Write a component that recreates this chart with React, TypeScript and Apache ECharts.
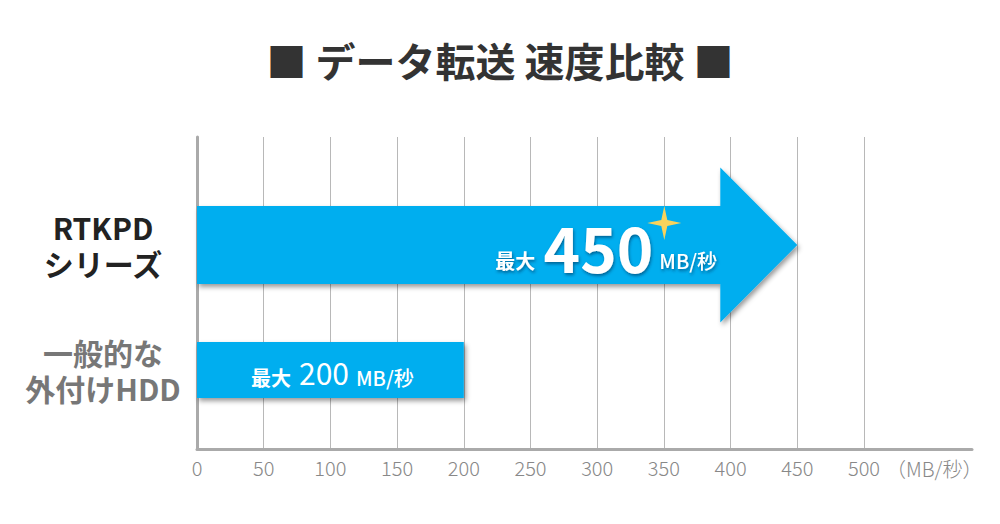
import React, { useEffect, useRef } from "react";
import * as echarts from "echarts";

const titleText = "■ データ転送 速度比較 ■";
const categories = ["RTKPD\nシリーズ", "一般的な\n外付けHDD"];
const speeds = [450, 200];
const labelPrefix = "最大";
const unitText = "MB/秒";
const axisUnit = "（MB/秒）";
const tickMin = 0;
const tickMax = 500;
const tickStep = 50;

const FONT = "'Noto Sans CJK JP', 'Noto Sans', sans-serif";
const BLUE = "#00AEEF";

export default function App() {
  const ref = useRef<HTMLDivElement>(null);
  useEffect(() => {
    if (!ref.current) return;
    const chart = echarts.init(ref.current, undefined, { renderer: "svg" });
    const textShadow = {
      textShadowColor: "rgba(0,40,80,0.55)",
      textShadowBlur: 3,
      textShadowOffsetX: 1,
      textShadowOffsetY: 2,
    };
    const renderItem = (params: any, api: any) => {
      const v = api.value(0);
      const c = api.value(1);
      const p0 = api.coord([0, c]);
      const p1 = api.coord([v, c]);
      const x0 = p0[0];
      const x1 = p1[0];
      const cy = p0[1];
      const shadow = {
        shadowColor: "rgba(0,0,0,0.4)",
        shadowBlur: 5,
        shadowOffsetX: 2,
        shadowOffsetY: 3,
      };
      if (params.dataIndex === 0) {
        const bh = 78 / 2;
        const hh = 155 / 2;
        const hl = 77;
        const pts = [
          [x0, cy - bh],
          [x1 - hl, cy - bh],
          [x1 - hl, cy - hh],
          [x1, cy],
          [x1 - hl, cy + hh],
          [x1 - hl, cy + bh],
          [x0, cy + bh],
        ];
        const sx = x1 - 133;
        const sy = cy - 22;
        const R = 17;
        const r = 3;
        const star = [
          [sx, sy - R],
          [sx + r, sy - r],
          [sx + R, sy],
          [sx + r, sy + r],
          [sx, sy + R],
          [sx - r, sy + r],
          [sx - R, sy],
          [sx - r, sy - r],
        ];
        return {
          type: "group",
          children: [
            { type: "polygon", shape: { points: pts }, style: { fill: BLUE, ...shadow } },
            {
              type: "text",
              style: {
                x: x1 - 144,
                y: cy + 1,
                text: String(v),
                fontSize: 62,
                fontWeight: "bold",
                fontFamily: FONT,
                fill: "#fff",
                align: "right",
                verticalAlign: "middle",
                ...textShadow,
              },
            },
            {
              type: "text",
              style: {
                x: x1 - 262,
                y: cy + 15,
                text: labelPrefix,
                fontSize: 20,
                fontWeight: "bold",
                fontFamily: FONT,
                fill: "#fff",
                align: "right",
                verticalAlign: "middle",
                ...textShadow,
              },
            },
            {
              type: "text",
              style: {
                x: x1 - 138,
                y: cy + 15,
                text: unitText,
                fontSize: 20,
                fontWeight: 500,
                fontFamily: FONT,
                fill: "#fff",
                align: "left",
                verticalAlign: "middle",
                ...textShadow,
              },
            },
            { type: "polygon", shape: { points: star }, style: { fill: "#F7D35C" } },
          ],
        };
      }
      const h = 56 / 2;
      return {
        type: "group",
        children: [
          {
            type: "rect",
            shape: { x: x0, y: cy - h, width: x1 - x0, height: 2 * h },
            style: { fill: BLUE, ...shadow },
          },
          {
            type: "text",
            style: {
              x: (x0 + x1) / 2 + 2,
              y: cy + 2,
              text: `{a|${labelPrefix}}{b|${v}}{c|${unitText}}`,
              align: "center",
              verticalAlign: "middle",
              fill: "#fff",
              fontFamily: FONT,
              rich: {
                a: { fontSize: 20, fontWeight: "bold", fill: "#fff", fontFamily: FONT, verticalAlign: "bottom", padding: [0, 8, 0, 0] },
                b: { fontSize: 30, fontWeight: "normal", fill: "#fff", fontFamily: FONT, verticalAlign: "bottom", padding: [0, 7, 0, 0] },
                c: { fontSize: 20, fontWeight: 500, fill: "#fff", fontFamily: FONT, verticalAlign: "bottom" },
              },
            },
          },
        ],
      };
    };

    chart.setOption({
      animation: false,
      backgroundColor: "#fff",
      title: {
        text: titleText,
        left: "center",
        top: 40,
        padding: 0,
        textStyle: { fontSize: 40, fontWeight: "bold", color: "#333", fontFamily: FONT },
      },
      grid: [
        { left: 197, right: 28, top: 137, bottom: 75 },
        { left: 197, right: 136, top: 137, bottom: 75 },
        { left: 197, right: 136, top: 182.5, bottom: 91.5 },
      ],
      xAxis: [
        {
          gridIndex: 0,
          type: "value",
          min: 0,
          max: 1,
          axisLine: { show: true, lineStyle: { color: "#aaaaaa", width: 3 } },
          axisTick: { show: false },
          axisLabel: { show: false },
          splitLine: { show: false },
        },
        {
          gridIndex: 1,
          type: "value",
          min: tickMin,
          max: tickMax,
          interval: tickStep,
          axisLine: { show: false },
          axisTick: { show: false },
          axisLabel: { fontSize: 20, color: "#888", margin: 8, fontFamily: FONT, fontWeight: 300 },
          splitLine: { show: true, lineStyle: { color: "#b8b8b8", width: 1 } },
          name: axisUnit,
          nameLocation: "end",
          nameGap: 18,
          nameTextStyle: {
            fontSize: 20,
            color: "#888",
            fontFamily: FONT,
            fontWeight: 300,
            verticalAlign: "top",
            padding: [10, 0, 0, 0],
          },
        },
        {
          gridIndex: 2,
          type: "value",
          min: tickMin,
          max: tickMax,
          show: false,
        },
      ],
      yAxis: [
        {
          gridIndex: 0,
          type: "value",
          min: 0,
          max: 1,
          axisLine: { show: true, lineStyle: { color: "#aaaaaa", width: 3 } },
          axisTick: { show: false },
          axisLabel: { show: false },
          splitLine: { show: false },
        },
        {
          gridIndex: 1,
          type: "value",
          min: 0,
          max: 1,
          show: false,
        },
        {
          gridIndex: 2,
          type: "category",
          inverse: true,
          data: categories,
          axisLine: { show: false },
          axisTick: { show: false },
          splitLine: { show: false },
          axisLabel: {
            fontSize: 30,
            fontWeight: "bold",
            lineHeight: 36,
            fontFamily: FONT,
            align: "center",
            margin: 94,
            color: (_v: any, i: number) => (i === 0 ? "#222" : "#777"),
          },
        },
      ],
      series: [
        {
          type: "custom",
          xAxisIndex: 2,
          yAxisIndex: 2,
          renderItem,
          encode: { x: 0, y: 1 },
          data: speeds.map((v, i) => [v, i]),
          z: 5,
        },
      ],
    });
    return () => chart.dispose();
  }, []);
  return (
    <div
      ref={ref}
      style={{ position: "absolute", left: 0, top: 0, width: 1000, height: 524 }}
    />
  );
}
